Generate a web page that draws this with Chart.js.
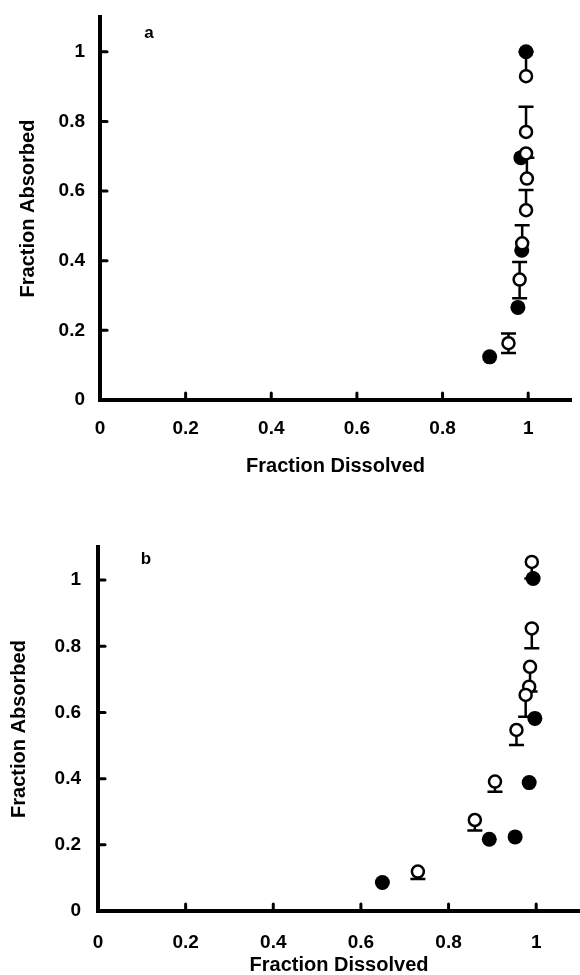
<!DOCTYPE html>
<html>
<head>
<meta charset="utf-8">
<script src="https://cdn.jsdelivr.net/npm/chart.js@4.4.0/dist/chart.umd.min.js"></script>
<style>
  html, body { margin: 0; padding: 0; background: #fff; overflow: hidden; width: 580px; height: 975px; }
  .panel { position: absolute; left: 0; }
</style>
</head>
<body>
<div class="panel" style="top:0px"><canvas id="chartA" width="580" height="480"></canvas></div>
<div class="panel" style="top:490px"><canvas id="chartB" width="580" height="490"></canvas></div>
<script>
// ---- Panel a data ----
const aFilledX = [0.995, 0.983, 0.985, 0.976, 0.910];
const aFilledY = [1.000, 0.696, 0.430, 0.266, 0.124];
const aOpenX   = [0.995, 0.995, 0.995, 0.997, 0.995, 0.986, 0.980, 0.954];
const aOpenY   = [0.930, 0.770, 0.708, 0.636, 0.545, 0.450, 0.346, 0.163];
const aErrPlus  = [0.070, 0.072, 0.000, 0.060, 0.058, 0.052, 0.050, 0.028];
const aErrMinus = [0.000, 0.000, 0.000, 0.000, 0.000, 0.000, 0.054, 0.028];

// ---- Panel b data ----
const bFilledX = [0.993, 0.997, 0.984, 0.952, 0.893, 0.649];
const bFilledY = [1.005, 0.582, 0.388, 0.224, 0.217, 0.086];
const bOpenX   = [0.990, 0.990, 0.986, 0.984, 0.976, 0.955, 0.906, 0.860, 0.730];
const bOpenY   = [1.055, 0.854, 0.738, 0.678, 0.653, 0.547, 0.391, 0.275, 0.119];
const bErrPlus  = [0, 0, 0, 0, 0, 0, 0, 0, 0];
const bErrMinus = [0.050, 0.060, 0.075, 0.000, 0.066, 0.045, 0.031, 0.032, 0.022];

// ---- Axis ----
const axisMin = 0, axisMax = 1.1, axisStep = 0.2;
const tickLabels = { 0: '0', 0.2: '0.2', 0.4: '0.4', 0.6: '0.6', 0.8: '0.8', 1: '1' };
const xTitle = 'Fraction Dissolved';
const yTitle = 'Fraction Absorbed';

Chart.defaults.font.family = "'Liberation Sans', Arial, Helvetica, sans-serif";
Chart.defaults.color = '#000';

function pts(xs, ys) { return xs.map((x, i) => ({ x: x, y: ys[i] })); }
function fmtTick(v) {
  const key = Math.round(v * 10) / 10;
  return tickLabels[key] !== undefined ? tickLabels[key] : '';
}

const errorBarPlugin = {
  id: 'errorBars',
  beforeDatasetsDraw(chart, args, opts) {
    const xs = chart.scales.x, ys = chart.scales.y;
    const ctx = chart.ctx;
    ctx.save();
    ctx.strokeStyle = '#000';
    ctx.lineWidth = 2.5;
    const cap = 7.5;
    opts.xs.forEach((xv, i) => {
      const px = xs.getPixelForValue(xv);
      const py = ys.getPixelForValue(opts.ys[i]);
      const ends = [];
      if (opts.plus[i] > 0) ends.push(ys.getPixelForValue(opts.ys[i] + opts.plus[i]));
      if (opts.minus[i] > 0) ends.push(ys.getPixelForValue(opts.ys[i] - opts.minus[i]));
      ends.forEach(e => {
        ctx.beginPath();
        ctx.moveTo(px, py); ctx.lineTo(px, e);
        ctx.moveTo(px - cap, e); ctx.lineTo(px + cap, e);
        ctx.stroke();
      });
    });
    ctx.restore();
  }
};

const innerTicksPlugin = {
  id: 'innerTicks',
  afterDraw(chart) {
    const ctx = chart.ctx, xs = chart.scales.x, ys = chart.scales.y;
    const area = chart.chartArea;
    ctx.save();
    ctx.strokeStyle = '#000';
    ctx.lineWidth = 3;
    ctx.lineCap = 'round';
    xs.ticks.forEach(t => {
      if (t.value <= axisMin) return;
      const px = xs.getPixelForValue(t.value);
      ctx.beginPath(); ctx.moveTo(px, area.bottom); ctx.lineTo(px, area.bottom - 7); ctx.stroke();
    });
    ys.ticks.forEach(t => {
      if (t.value <= axisMin) return;
      const py = ys.getPixelForValue(t.value);
      ctx.beginPath(); ctx.moveTo(area.left, py); ctx.lineTo(area.left + 7, py); ctx.stroke();
    });
    ctx.restore();
  }
};

const panelLabelPlugin = {
  id: 'panelLabel',
  afterDraw(chart, args, opts) {
    const ctx = chart.ctx;
    ctx.save();
    ctx.fillStyle = '#000';
    ctx.font = "bold 17px 'Liberation Sans', Arial, sans-serif";
    ctx.textAlign = 'center';
    ctx.textBaseline = 'middle';
    ctx.fillText(opts.text, opts.x, opts.y);
    ctx.restore();
  }
};

function makeChart(id, p) {
  return new Chart(document.getElementById(id), {
    type: 'scatter',
    data: {
      datasets: [
        {
          label: 'open',
          data: pts(p.openX, p.openY),
          pointStyle: 'circle',
          pointRadius: 6,
          pointBorderWidth: 2.5,
          pointBackgroundColor: '#fff',
          pointBorderColor: '#000',
          showLine: false,
          order: 0
        },
        {
          label: 'filled',
          data: pts(p.filledX, p.filledY),
          pointStyle: 'circle',
          pointRadius: 7.5,
          pointBorderWidth: 0,
          pointBackgroundColor: '#000',
          pointBorderColor: '#000',
          showLine: false,
          order: 1
        }
      ]
    },
    options: {
      responsive: false,
      animation: false,
      devicePixelRatio: 1,
      layout: { padding: p.padding, autoPadding: false },
      plugins: {
        legend: { display: false },
        tooltip: { enabled: false },
        errorBars: { xs: p.openX, ys: p.openY, plus: p.plus, minus: p.minus },
        panelLabel: p.label
      },
      scales: {
        x: {
          type: 'linear', min: axisMin, max: axisMax,
          grid: { display: false, drawTicks: false },
          border: { display: true, color: '#000', width: 4 },
          ticks: { stepSize: axisStep, includeBounds: false, padding: p.xTickPad,
                   font: { size: 19, weight: 'bold' }, color: '#000', maxRotation: 0,
                   callback: fmtTick },
          title: { display: true, text: xTitle, font: { size: 20, weight: 'bold' },
                   color: '#000', padding: { top: 0, bottom: p.xTitlePad } },
          afterFit(s) { s.height = p.xHeight; s.paddingLeft = 0; s.paddingRight = 0; }
        },
        y: {
          type: 'linear', min: axisMin, max: axisMax,
          grid: { display: false, drawTicks: false },
          border: { display: true, color: '#000', width: 4 },
          ticks: { stepSize: axisStep, includeBounds: false, padding: p.yTickPad,
                   font: { size: 19, weight: 'bold' }, color: '#000',
                   callback: fmtTick },
          title: { display: true, text: yTitle, font: { size: 20, weight: 'bold' },
                   color: '#000', padding: { top: p.yTitlePad, bottom: 0 } },
          afterFit(s) { s.width = p.yWidth; s.paddingTop = 0; s.paddingBottom = 0; }
        }
      }
    },
    plugins: [errorBarPlugin, innerTicksPlugin, panelLabelPlugin]
  });
}

makeChart('chartA', {
  openX: aOpenX, openY: aOpenY, plus: aErrPlus, minus: aErrMinus,
  filledX: aFilledX, filledY: aFilledY,
  padding: { left: 0, right: 9, top: 17, bottom: 0 },
  xHeight: 80, yWidth: 100, xTickPad: 17, yTickPad: 15, xTitlePad: 2, yTitlePad: 16,
  label: { text: 'a', x: 149, y: 33 }
});

makeChart('chartB', {
  openX: bOpenX, openY: bOpenY, plus: bErrPlus, minus: bErrMinus,
  filledX: bFilledX, filledY: bFilledY,
  padding: { left: 0, right: 0, top: 57, bottom: 0 },
  xHeight: 69, yWidth: 98, xTickPad: 20, yTickPad: 17, xTitlePad: 3, yTitlePad: 7,
  label: { text: 'b', x: 146, y: 69 }
});
</script>
</body>
</html>
